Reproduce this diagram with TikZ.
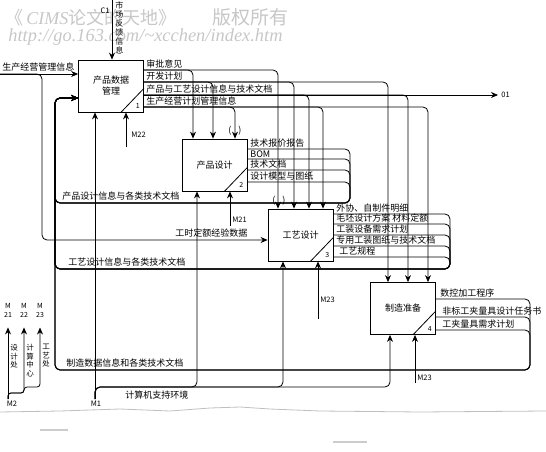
\documentclass[tikz,border=0pt]{standalone}
\usepackage{fontspec}
\setmainfont{Noto Sans CJK SC}
\newfontfamily\wmlatin{Liberation Serif}
\usetikzlibrary{arrows.meta,calc}

\begin{document}
\begin{tikzpicture}[x=1pt,y=-1pt,line width=0.8pt,
  box/.style={draw,minimum width=65pt,minimum height=52pt,inner sep=0pt,align=center,font=\fontsize{9}{11}\selectfont},
  lbl/.style={inner sep=0pt,anchor=south west,font=\fontsize{9}{10}\selectfont},
  vlbl/.style={inner sep=0pt,anchor=north west,align=center,font=\fontsize{7.5}{8.5}\selectfont},
  num/.style={inner sep=0pt,font=\fontsize{7}{8}\selectfont},
  mlbl/.style={inner sep=0pt,anchor=west,font=\fontsize{7.5}{8}\selectfont},
  flow/.style={rounded corners=5pt},
  arr/.style={-{Stealth[length=7pt,width=6pt]}},
  wm/.style={inner sep=0pt,anchor=base west,text=black!22,font=\fontsize{18}{20}\selectfont}]
\useasboundingbox (0,0) rectangle (546,452);

% watermark and torn edge of the scan
\node[wm] (wm1) at (5,25) {《\,{\wmlatin\itshape CIMS}论文的天地》};
\node[wm,font=\fontsize{19}{20}\selectfont] (wm2) at (212,25) {版权所有};
\node[wm,font=\wmlatin\itshape\fontsize{18.4}{20}\selectfont] (wm3) at (8,42) {http://go.163.com/\textasciitilde xcchen/index.htm};
\draw[black!25] (0,412) -- (60,411) -- (120,409) -- (170,411) -- (210,408) -- (240,407) -- (270,409) -- (320,411) -- (420,412) -- (546,411);
\draw[black!20,line width=1.2pt] (40,430) -- (68,430) (333,442) -- (367,442);

% activities
\node[box] (b1) at (111,86) {产品数据\\管理};
\node[box] (b2) at (214.5,165) {产品设计};
\node[box] (b3) at (300.5,235) {工艺设计};
\node[box] (b4) at (403,308.5) {制造准备};
\foreach \b/\n in {b1/1,b2/2,b3/3,b4/4}{
  \draw ($(\b.south east)+(-23,0)$) -- ($(\b.south east)+(0,-24)$);
  \node[num] (n\b) at ($(\b.south east)+(-6,-6)$) {\n};}

% control C1
\coordinate (c1) at (112,0);
\node[mlbl,anchor=east] (c1l) at (110,11) {C1};
\node[vlbl,font=\fontsize{8}{9}\selectfont] (c1t) at (115,1) {市\\场\\反\\馈\\信\\息};
\draw[arr] (c1) -- (b1.north -| c1);

% input
\coordinate (in0) at (0,74);
\node[lbl] (i1) at (2,72) {生产经营管理信息};
\draw[arr] (in0) -- (b1.west |- in0);
\draw[flow,arr] (in0) -- (42,74) -- (42,240) -- (b3.west |- 0,240);
\node[lbl] (i3) at (175,238) {工时定额经验数据};

% outputs of b1
\node[lbl] (o11) at (146,69) {审批意见};
\node[lbl] (o12) at (146,81) {开发计划};
\node[lbl] (o13) at (146,94) {产品与工艺设计信息与技术文档};
\node[lbl] (o14) at (146,106) {生产经营计划管理信息};
\foreach \y/\x/\b in {70/193/b2,70/278/b3,82/213/b2,82/294/b3,82/388/b4,95/309/b3,95/408/b4,107/235/b2,107/323/b3,107/428/b4}
  \draw[flow,arr] (b1.east |- 0,\y) -| (\b.north -| \x,0);
\coordinate (o1) at (498,95);
\draw[arr] (b1.east |- 0,95) -- (o1);
\node[mlbl] (o1l) at (501,95) {01};
\node[inner sep=0pt,font=\fontsize{9}{10}\selectfont] (p2) at (235,131) {(\hspace{7pt})};
\node[inner sep=0pt,font=\fontsize{9}{10}\selectfont] (p3) at (279,201) {(\hspace{7pt})};

% outputs of b2
\node[lbl] (o21) at (250,148) {技术报价报告};
\node[lbl] (o22) at (250,158) {BOM};
\node[lbl] (o23) at (250,169) {技术文档};
\node[lbl] (o24) at (250,181) {设计模型与图纸};
\foreach \y in {149,159,170,182}
  \draw[flow,arr] (b2.east |- 0,\y) -- (350,\y) -- (350,203) -- (55,203) -- (55,98) -- (b1.west |- 0,98);
\node[lbl] (f2) at (62,201) {产品设计信息与各类技术文档};

% outputs of b3
\node[lbl] (o31) at (336,213) {外协、自制件明细};
\node[lbl] (o32) at (336,223) {毛坯设计方案\ 材料定额};
\node[lbl] (o33) at (336,234) {工装设备需求计划};
\node[lbl] (o34) at (336,245) {专用工装图纸与技术文档};
\node[lbl] (o35) at (339,256) {工艺规程};
\foreach \y in {214,224,235,246,257}
  \draw[flow,arr] (b3.east |- 0,\y) -- (450,\y) -- (450,269) -- (55,269) -- (55,98) -- (b1.west |- 0,98);
\node[lbl] (f3) at (68,267) {工艺设计信息与各类技术文档};

% outputs of b4
\node[lbl] (o41) at (440,298) {数控加工程序};
\node[lbl] (o42) at (442,316) {非标工夹量具设计任务书};
\node[lbl] (o43) at (442,329) {工夹量具需求计划};
\foreach \y in {299,317,330}
  \draw[flow,arr] (b4.east |- 0,\y) -- (530,\y) -- (530,370) -- (55,370) -- (55,98) -- (b1.west |- 0,98);
\node[lbl] (f4) at (66,368) {制造数据信息和各类技术文档};

% mechanisms
\coordinate (m1) at (95,399);
\node[mlbl,anchor=center] (m1l) at (96,404) {M1};
\draw[arr] (m1) -- (b1.south -| m1);
\foreach \x/\b in {197/b2,283/b3,390/b4}
  \draw[flow,arr] (m1) -- (95,387) -| (\b.south -| \x,0);
\node[lbl,anchor=north west] (m1t) at (125,390) {计算机支持环境};
\coordinate (m22) at (126,147);
\node[mlbl] (m22l) at (131,135) {M22};
\draw[arr] (m22) -- (b1.south -| m22);
\coordinate (m21) at (230,226);
\node[mlbl] (m21l) at (232,220) {M21};
\draw[arr] (m21) -- (b2.south -| m21);
\coordinate (m23c) at (318,319);
\node[mlbl] (m23cl) at (320,300) {M23};
\draw[arr] (m23c) -- (b3.south -| m23c);
\coordinate (m23d) at (415,383);
\node[mlbl] (m23dl) at (417,378) {M23};
\draw[arr] (m23d) -- (b4.south -| m23d);

% mechanism M2 split
\coordinate (m2) at (8,399);
\node[mlbl,anchor=center] (m2l) at (12,404) {M2};
\node[num,align=center,font=\fontsize{7}{9}\selectfont] (t21) at (8,310) {M\\21};
\node[num,align=center,font=\fontsize{7}{9}\selectfont] (t22) at (24,310) {M\\22};
\node[num,align=center,font=\fontsize{7}{9}\selectfont] (t23) at (40,310) {M\\23};
\draw[arr] (m2) -- ([yshift=-10pt]t21.south);
\draw[arr,rounded corners=3pt] (m2) -- (8,393) -| ([yshift=-10pt]t22.south);
\draw[arr,rounded corners=3pt] (m2) -- (8,393) -- (24,393) -- (24,387) -| ([yshift=-10pt]t23.south);
\node[vlbl] (v21) at (10,344) {设\\计\\处};
\node[vlbl] (v22) at (26,344) {计\\算\\中\\心};
\node[vlbl] (v23) at (42,344) {工\\艺\\处};
\end{tikzpicture}
\end{document}
